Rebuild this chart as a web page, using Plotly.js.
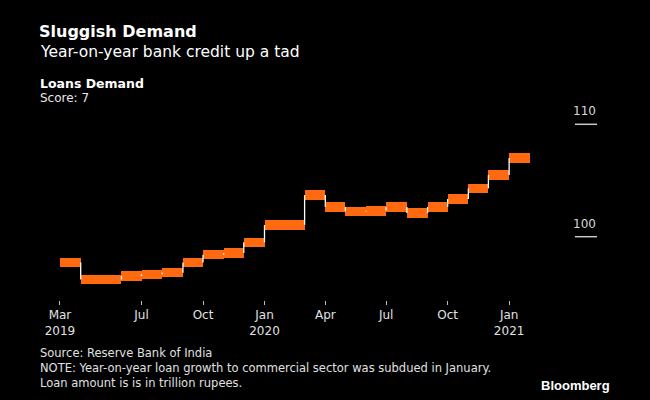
<!DOCTYPE html>
<html>
<head>
<meta charset="utf-8">
<script src="https://cdn.plot.ly/plotly-3.0.1.min.js"></script>
<style>
  html, body { margin: 0; padding: 0; background: #000; }
  #chart { width: 650px; height: 400px; }
</style>
</head>
<body>
<div id="chart"></div>
<script>
// ---- data ----
const months = ['2019-03-01','2019-04-01','2019-05-01','2019-06-01','2019-07-01','2019-08-01',
  '2019-09-01','2019-10-01','2019-11-01','2019-12-01','2020-01-01','2020-02-01','2020-03-01',
  '2020-04-01','2020-05-01','2020-06-01','2020-07-01','2020-08-01','2020-09-01','2020-10-01',
  '2020-11-01','2020-12-01','2021-01-01'];
const loans = [97.7, 96.2, 96.2, 96.5, 96.65, 96.8, 97.7, 98.4, 98.55, 99.5, 101.05, 101.05, 103.7,
  102.65, 102.25, 102.3, 102.65, 102.1, 102.65, 103.35, 104.3, 105.5, 107.0];
const tickDates = ['2019-03-01','2019-07-01','2019-10-01','2020-01-01','2020-04-01','2020-07-01','2020-10-01','2021-01-01'];
const tickLabels = ['Mar<br>2019','Jul','Oct','Jan<br>2020','Apr','Jul','Oct','Jan<br>2021'];
const yTicks = [100, 110];
const yTickLabels = ['100', '110'];

// ---- styling ----
const ORANGE = '#ff6a10';
const BAR_H = 0.84;
const FONT = 'DejaVu Sans, Verdana, sans-serif';

function nextMonth(d) {
  const t = new Date(d + 'T00:00:00Z');
  t.setUTCMonth(t.getUTCMonth() + 1);
  return t;
}
const widths = months.map(d => nextMonth(d) - new Date(d + 'T00:00:00Z'));

const bars = {
  type: 'bar',
  x: months,
  y: loans.map(() => BAR_H),
  base: loans.map(v => v - BAR_H / 2),
  width: widths,
  offset: 0,
  marker: { color: ORANGE, line: { width: 0 } },
  hoverinfo: 'skip',
  showlegend: false
};

const cx = [], cy = [];
for (let i = 0; i < months.length - 1; i++) {
  cx.push(months[i + 1], months[i + 1], null);
  cy.push(loans[i], loans[i + 1], null);
}
const connectors = {
  type: 'scatter', mode: 'lines', x: cx, y: cy,
  line: { color: '#ffffff', width: 1.3 },
  hoverinfo: 'skip', showlegend: false, connectgaps: false
};

// plot area in pixels: left 40, right 610, top 105, bottom 300
const L = 40, R = 610, T = 105, B = 300;
const px = p => (p - L) / (R - L);
const py = p => (B - p) / (B - T);

const shapes = yTicks.map(v => ({
  type: 'line', xref: 'paper', yref: 'y', x0: px(575), x1: px(597), y0: v, y1: v,
  line: { color: '#c8c8c8', width: 1.5 }
}));

const annotations = [
  ...yTicks.map((v, i) => ({
    xref: 'paper', yref: 'y', x: px(598), y: v, xanchor: 'right', yanchor: 'bottom',
    yshift: 4, text: yTickLabels[i], showarrow: false,
    font: { family: FONT, size: 12, color: '#d8d8d8' }
  })),
  { xref: 'paper', yref: 'paper', x: px(38), y: py(51.5), xanchor: 'left', yanchor: 'middle',
    text: 'Year-on-year bank credit up a tad', showarrow: false,
    font: { family: FONT, size: 15.5, color: '#ffffff' } },
  { xref: 'paper', yref: 'paper', x: px(38), y: py(83), xanchor: 'left', yanchor: 'middle',
    text: '<b>Loans Demand</b>', showarrow: false,
    font: { family: FONT, size: 12.5, color: '#ffffff' } },
  { xref: 'paper', yref: 'paper', x: px(38), y: py(98), xanchor: 'left', yanchor: 'middle',
    text: 'Score: 7', showarrow: false,
    font: { family: FONT, size: 12, color: '#e8e8e8' } },
  { xref: 'paper', yref: 'paper', x: px(38), y: py(367.5), xanchor: 'left', yanchor: 'middle',
    align: 'left',
    text: 'Source: Reserve Bank of India<br>NOTE: Year-on-year loan growth to commercial sector was subdued in January.<br>Loan amount is is in trillion rupees.',
    showarrow: false,
    font: { family: FONT, size: 11.5, color: '#e0e0e0' } },
  { xref: 'paper', yref: 'paper', x: px(612), y: py(385), xanchor: 'right', yanchor: 'middle',
    text: '<b>Bloomberg</b>', showarrow: false,
    font: { family: 'Liberation Sans, Arial, sans-serif', size: 13, color: '#ffffff' } }
];

const layout = {
  width: 650, height: 400,
  paper_bgcolor: '#000000', plot_bgcolor: '#000000',
  margin: { l: L, r: 650 - R, t: T, b: 400 - B, pad: 0 },
  title: {
    text: '<b>Sluggish Demand</b>',
    xref: 'container', yref: 'container', x: 39 / 650, xanchor: 'left',
    y: 1 - 31.5 / 400, yanchor: 'middle',
    font: { family: FONT, size: 16, color: '#ffffff' }
  },
  xaxis: {
    type: 'date',
    range: ['2019-01-30 03:00', '2021-05-31 22:00'],
    tickvals: tickDates, ticktext: tickLabels,
    ticks: 'outside', ticklen: 4, tickwidth: 1, tickcolor: '#bbbbbb',
    showgrid: false, zeroline: false, showline: false,
    tickfont: { family: FONT, size: 12, color: '#e0e0e0' },
    fixedrange: true
  },
  yaxis: {
    range: [94.368, 111.717],
    showticklabels: false, ticks: '', showgrid: false, zeroline: false, showline: false,
    fixedrange: true
  },
  bargap: 0,
  shapes: shapes,
  annotations: annotations,
  showlegend: false
};

Plotly.newPlot('chart', [bars, connectors], layout, { displayModeBar: false, staticPlot: true });
</script>
</body>
</html>
